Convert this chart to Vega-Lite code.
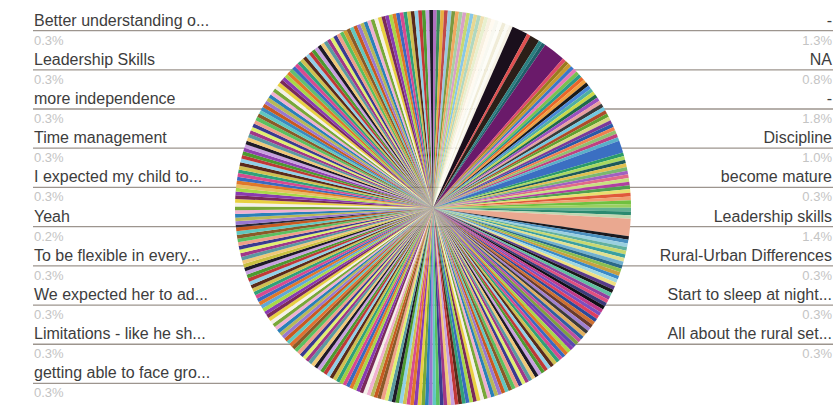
{
"$schema": "https://vega.github.io/schema/vega-lite/v6.json",
"width": 800,
"height": 394,
"autosize": {"type": "none"},
"padding": {"left": 33, "top": 11, "right": 6, "bottom": 0},
"background": "white",
"config": {"view": {"stroke": null}},
"data": {"values": [
{"i":1,"v":0.003},{"i":2,"v":0.003},{"i":3,"v":0.003},{"i":4,"v":0.003},{"i":5,"v":0.003},{"i":6,"v":0.003},{"i":7,"v":0.003},{"i":8,"v":0.003},{"i":9,"v":0.003},{"i":10,"v":0.003},
{"i":11,"v":0.003},{"i":12,"v":0.003},{"i":13,"v":0.003},{"i":14,"v":0.003},{"i":15,"v":0.003},{"i":16,"v":0.003},{"i":17,"v":0.003},{"i":18,"v":0.003},{"i":19,"v":0.003},{"i":20,"v":0.003},
{"i":21,"v":0.003},{"i":22,"v":0.003},
{"i":23,"v":0.013,"label":"-","side":"right","slot":0},
{"i":24,"v":0.003},
{"i":25,"v":0.008,"label":"NA","side":"right","slot":1},
{"i":26,"v":0.003},{"i":27,"v":0.003},
{"i":28,"v":0.018,"label":"-","side":"right","slot":2},
{"i":29,"v":0.003},{"i":30,"v":0.003},{"i":31,"v":0.003},{"i":32,"v":0.003},{"i":33,"v":0.003},{"i":34,"v":0.003},{"i":35,"v":0.003},{"i":36,"v":0.003},{"i":37,"v":0.003},{"i":38,"v":0.003},
{"i":39,"v":0.003},{"i":40,"v":0.003},{"i":41,"v":0.003},{"i":42,"v":0.003},{"i":43,"v":0.003},{"i":44,"v":0.003},{"i":45,"v":0.003},{"i":46,"v":0.003},{"i":47,"v":0.003},{"i":48,"v":0.003},
{"i":49,"v":0.003},{"i":50,"v":0.003},{"i":51,"v":0.003},{"i":52,"v":0.003},{"i":53,"v":0.003},{"i":54,"v":0.003},{"i":55,"v":0.003},
{"i":56,"v":0.010,"label":"Discipline","side":"right","slot":3},
{"i":57,"v":0.003},{"i":58,"v":0.003},{"i":59,"v":0.003},{"i":60,"v":0.003},{"i":61,"v":0.003},{"i":62,"v":0.003},{"i":63,"v":0.003},{"i":64,"v":0.003},
{"i":65,"v":0.003,"label":"become mature","side":"right","slot":4},
{"i":66,"v":0.003},{"i":67,"v":0.003},{"i":68,"v":0.003},{"i":69,"v":0.003},{"i":70,"v":0.003},{"i":71,"v":0.003},{"i":72,"v":0.003},{"i":73,"v":0.003},{"i":74,"v":0.003},
{"i":75,"v":0.014,"label":"Leadership skills","side":"right","slot":5},
{"i":76,"v":0.003},{"i":77,"v":0.003},{"i":78,"v":0.003},{"i":79,"v":0.003},{"i":80,"v":0.003},{"i":81,"v":0.003},{"i":82,"v":0.003},{"i":83,"v":0.003},{"i":84,"v":0.003},
{"i":85,"v":0.003,"label":"Rural-Urban Differences","side":"right","slot":6},
{"i":86,"v":0.003},{"i":87,"v":0.003},{"i":88,"v":0.003},{"i":89,"v":0.003},{"i":90,"v":0.003},{"i":91,"v":0.003},{"i":92,"v":0.003},{"i":93,"v":0.003},{"i":94,"v":0.003},{"i":95,"v":0.003},
{"i":96,"v":0.003,"label":"Start to sleep at night...","side":"right","slot":7},
{"i":97,"v":0.003},{"i":98,"v":0.003},{"i":99,"v":0.003},{"i":100,"v":0.003},{"i":101,"v":0.003},{"i":102,"v":0.003},{"i":103,"v":0.003},{"i":104,"v":0.003},{"i":105,"v":0.003},{"i":106,"v":0.003},{"i":107,"v":0.003},{"i":108,"v":0.003},
{"i":109,"v":0.003,"label":"All about the rural set...","side":"right","slot":8},
{"i":110,"v":0.003},{"i":111,"v":0.003},{"i":112,"v":0.003},{"i":113,"v":0.003},{"i":114,"v":0.003},{"i":115,"v":0.003},{"i":116,"v":0.003},{"i":117,"v":0.003},{"i":118,"v":0.003},{"i":119,"v":0.003},
{"i":120,"v":0.003},{"i":121,"v":0.003},{"i":122,"v":0.003},{"i":123,"v":0.003},{"i":124,"v":0.003},{"i":125,"v":0.003},{"i":126,"v":0.003},{"i":127,"v":0.003},{"i":128,"v":0.003},{"i":129,"v":0.003},
{"i":130,"v":0.003},{"i":131,"v":0.003},{"i":132,"v":0.003},{"i":133,"v":0.003},{"i":134,"v":0.003},{"i":135,"v":0.003},{"i":136,"v":0.003},{"i":137,"v":0.003},{"i":138,"v":0.003},{"i":139,"v":0.003},
{"i":140,"v":0.003},{"i":141,"v":0.003},{"i":142,"v":0.003},{"i":143,"v":0.003},{"i":144,"v":0.003},{"i":145,"v":0.003},{"i":146,"v":0.003},{"i":147,"v":0.003},{"i":148,"v":0.003},{"i":149,"v":0.003},
{"i":150,"v":0.003},{"i":151,"v":0.003},{"i":152,"v":0.003},{"i":153,"v":0.003},{"i":154,"v":0.003},{"i":155,"v":0.003},{"i":156,"v":0.003},{"i":157,"v":0.003},{"i":158,"v":0.003},{"i":159,"v":0.003},
{"i":160,"v":0.003},{"i":161,"v":0.003},{"i":162,"v":0.003},{"i":163,"v":0.003},{"i":164,"v":0.003},{"i":165,"v":0.003},{"i":166,"v":0.003},{"i":167,"v":0.003},{"i":168,"v":0.003},{"i":169,"v":0.003},
{"i":170,"v":0.003},{"i":171,"v":0.003},{"i":172,"v":0.003},{"i":173,"v":0.003},{"i":174,"v":0.003},{"i":175,"v":0.003},{"i":176,"v":0.003},
{"i":177,"v":0.003,"label":"getting able to face gro...","side":"left","slot":9},
{"i":178,"v":0.003},{"i":179,"v":0.003},{"i":180,"v":0.003},{"i":181,"v":0.003},{"i":182,"v":0.003},{"i":183,"v":0.003},{"i":184,"v":0.003},{"i":185,"v":0.003},{"i":186,"v":0.003},{"i":187,"v":0.003},
{"i":188,"v":0.003},{"i":189,"v":0.003},{"i":190,"v":0.003},{"i":191,"v":0.003},{"i":192,"v":0.003},{"i":193,"v":0.003},
{"i":194,"v":0.003,"label":"Limitations - like he sh...","side":"left","slot":8},
{"i":195,"v":0.003},{"i":196,"v":0.003},{"i":197,"v":0.003},{"i":198,"v":0.003},{"i":199,"v":0.003},{"i":200,"v":0.003},{"i":201,"v":0.003},{"i":202,"v":0.003},{"i":203,"v":0.003},{"i":204,"v":0.003},
{"i":205,"v":0.003},{"i":206,"v":0.003},
{"i":207,"v":0.003,"label":"We expected her to ad...","side":"left","slot":7},
{"i":208,"v":0.003},{"i":209,"v":0.003},{"i":210,"v":0.003},{"i":211,"v":0.003},{"i":212,"v":0.003},{"i":213,"v":0.003},{"i":214,"v":0.003},{"i":215,"v":0.003},{"i":216,"v":0.003},{"i":217,"v":0.003},
{"i":218,"v":0.003},
{"i":219,"v":0.003,"label":"To be flexible in every...","side":"left","slot":6},
{"i":220,"v":0.003},{"i":221,"v":0.003},{"i":222,"v":0.003},{"i":223,"v":0.003},{"i":224,"v":0.003},{"i":225,"v":0.003},{"i":226,"v":0.003},{"i":227,"v":0.003},{"i":228,"v":0.003},{"i":229,"v":0.003},
{"i":230,"v":0.002,"label":"Yeah","side":"left","slot":5},
{"i":231,"v":0.003},{"i":232,"v":0.003},{"i":233,"v":0.003},{"i":234,"v":0.003},{"i":235,"v":0.003},{"i":236,"v":0.003},{"i":237,"v":0.003},{"i":238,"v":0.003},{"i":239,"v":0.003},{"i":240,"v":0.003},
{"i":241,"v":0.003,"label":"I expected my child to...","side":"left","slot":4},
{"i":242,"v":0.003},{"i":243,"v":0.003},{"i":244,"v":0.003},{"i":245,"v":0.003},{"i":246,"v":0.003},{"i":247,"v":0.003},{"i":248,"v":0.003},{"i":249,"v":0.003},{"i":250,"v":0.003},
{"i":251,"v":0.003,"label":"Time management","side":"left","slot":3},
{"i":252,"v":0.003},{"i":253,"v":0.003},{"i":254,"v":0.003},{"i":255,"v":0.003},{"i":256,"v":0.003},{"i":257,"v":0.003},{"i":258,"v":0.003},{"i":259,"v":0.003},{"i":260,"v":0.003},{"i":261,"v":0.003},
{"i":262,"v":0.003},
{"i":263,"v":0.003,"label":"more independence","side":"left","slot":2},
{"i":264,"v":0.003},{"i":265,"v":0.003},{"i":266,"v":0.003},{"i":267,"v":0.003},{"i":268,"v":0.003},{"i":269,"v":0.003},{"i":270,"v":0.003},{"i":271,"v":0.003},{"i":272,"v":0.003},{"i":273,"v":0.003},
{"i":274,"v":0.003},{"i":275,"v":0.003},
{"i":276,"v":0.003,"label":"Leadership Skills","side":"left","slot":1},
{"i":277,"v":0.003},{"i":278,"v":0.003},{"i":279,"v":0.003},{"i":280,"v":0.003},{"i":281,"v":0.003},{"i":282,"v":0.003},{"i":283,"v":0.003},{"i":284,"v":0.003},{"i":285,"v":0.003},{"i":286,"v":0.003},
{"i":287,"v":0.003},{"i":288,"v":0.003},{"i":289,"v":0.003},{"i":290,"v":0.003},{"i":291,"v":0.003},{"i":292,"v":0.003},{"i":293,"v":0.003},
{"i":294,"v":0.003,"label":"Better understanding o...","side":"left","slot":0},
{"i":295,"v":0.003},{"i":296,"v":0.003},{"i":297,"v":0.003},{"i":298,"v":0.003},{"i":299,"v":0.003},{"i":300,"v":0.003},{"i":301,"v":0.003},{"i":302,"v":0.003},{"i":303,"v":0.003},{"i":304,"v":0.003},
{"i":305,"v":0.003},{"i":306,"v":0.003},{"i":307,"v":0.003},{"i":308,"v":0.003},{"i":309,"v":0.003},{"i":310,"v":0.003},{"i":311,"v":0.003},{"i":312,"v":0.003},{"i":313,"v":0.003},{"i":314,"v":0.003},
{"i":315,"v":0.003},{"i":316,"v":0.003},{"i":317,"v":0.003},{"i":318,"v":0.003}
]},
"layer": [
{
"transform": [{"filter": "isValid(datum.label)"}],
"mark": {"type": "rule", "color": "#9d958e", "strokeWidth": 1.3},
"encoding": {
"x": {"field": "side", "type": "nominal", "scale": {"type": "point", "domain": ["left", "center", "right"], "padding": 0}, "axis": null},
"x2": {"datum": "center"},
"y": {"field": "slot", "type": "quantitative", "scale": {"domain": [-0.5, 9.55], "reverse": true, "nice": false, "zero": false}, "axis": null}
}
},
{
"mark": {"type": "arc", "outerRadius": 198},
"encoding": {
"theta": {"field": "v", "type": "quantitative", "stack": true},
"order": {"field": "i", "type": "quantitative"},
"color": {"field": "i", "type": "ordinal", "legend": null, "scale": {"range": [
"#b070c0","#3a8a5a","#e8b040","#c04a4a","#9ac8e0","#7a9a40","#f0a860","#a8d0a0","#d8a0c8","#c8d870","#88c8e8","#e8d890","#b0d8c0","#f0e0b0","#e8f0d0","#f8f0e0","#fffaf0","#f8f8f0","#fdfdf8","#f0ecd8","#fbfbf5","#f6f2e6",
"#1a0f1c","#e05050","#2b1f18","#2a8080","#1f5f6a","#6a1a6a",
"#e04a6a","#9a7a1e","#c89a30","#3a78c8","#e878b8","#7ac050","#2a9a8a","#e8662a","#f0a040","#1a1a1a","#4a88d8","#50b0a0","#c8d848","#1e6a4a","#9a50c0","#e8a0a0","#3a3a3a","#70c8e0","#b04a2a","#60a030","#d8d880","#7a3a9a","#2a5aa8","#f08050","#90c070","#c04080","#5ab0c8",
"#3b6fc2",
"#2a9a6a","#a8d860","#1e5a5a","#e0c050","#7ab870","#a060c0","#e06a8a","#c8e080",
"#b040a0",
"#50a050","#e8e070","#e05a3a","#f0a070","#70c040","#9ad060","#60b090","#2a8a70","#c0d8b0",
"#eaa890",
"#1a1a20","#4a90c0","#9ad0e0","#60b0a0","#c8d870","#3aa0a0","#e0e090","#70b0d0","#2a6a8a",
"#8ac050",
"#c8a040","#3a8ac8","#a0d8e0","#f0e080","#5a3a8a","#1a1a1a","#60c0a0","#9040a0","#e05080","#3a3a7a",
"#101018",
"#c03a8a","#7a50c0","#e04060","#2a4a9a","#d07030","#6a3a2a","#a080d0","#3a3a3a","#e0b060","#3060a0","#c050a0","#80a040",
"#5a4ab0",
"#8a3ab0","#a8d848","#e0782a","#3a6ac0","#d84a90","#30a07a","#d0c050","#5a2a1a","#90d0e8","#c03838","#4c9a30","#c8a0e0","#1e1a28","#f0c878","#5a9aa0","#a03888","#e0f070","#3a3a90","#f0a088","#5ac060","#8a5a28","#60c8c0","#c85a20","#9878d0","#b8b858","#2a80b8","#f0b0d0","#78a838","#f4f0e8","#e8d040","#7a2a5a",
"#a8d848","#3a6ac0","#30a07a","#5a2a1a","#c03838","#c8a0e0","#f0c878","#a03888","#3a3a90","#5ac060","#60c8c0","#9878d0","#2a80b8","#78a838","#e8d040","#8a3ab0","#e0782a","#d84a90","#d0c050","#90d0e8","#4c9a30","#1e1a28","#5a9aa0","#e0f070","#f0a088","#8a5a28","#c85a20","#b8b858","#f0b0d0","#f4f0e8","#7a2a5a",
"#8a3ab0","#a8d848","#e0782a","#3a6ac0","#d84a90",
"#a0d040",
"#30a07a","#d0c050","#5a2a1a","#90d0e8","#c03838","#4c9a30","#c8a0e0","#1e1a28","#f0c878","#5a9aa0","#a03888","#e0f070","#3a3a90","#f0a088","#5ac060","#8a5a28",
"#e07030",
"#60c8c0","#c85a20","#9878d0","#b8b858","#2a80b8","#f0b0d0","#78a838","#f4f0e8","#e8d040","#7a2a5a","#8a3ab0","#a8d848",
"#60a8d8",
"#e0782a","#3a6ac0","#d84a90","#30a07a","#d0c050","#5a2a1a","#90d0e8","#c03838","#4c9a30","#c8a0e0","#1e1a28",
"#c8c040",
"#f0c878","#5a9aa0","#a03888","#e0f070","#3a3a90","#f0a088","#5ac060","#8a5a28","#60c8c0","#c85a20",
"#2a2a3a",
"#9878d0","#b8b858","#2a80b8","#f0b0d0","#78a838","#f4f0e8","#e8d040","#7a2a5a","#8a3ab0","#a8d848",
"#e8c060",
"#e0782a","#3a6ac0","#d84a90","#30a07a","#d0c050","#5a2a1a","#90d0e8","#c03838","#4c9a30",
"#9040b0",
"#c8a0e0","#1e1a28","#f0c878","#5a9aa0","#a03888","#e0f070","#3a3a90","#f0a088","#5ac060","#8a5a28","#60c8c0",
"#3a8ac0",
"#c85a20","#9878d0","#b8b858","#2a80b8","#f0b0d0","#78a838","#f4f0e8","#e8d040","#7a2a5a","#8a3ab0","#a8d848","#e0782a",
"#60c070",
"#3a6ac0","#d84a90","#30a07a","#d0c050","#5a2a1a","#90d0e8","#c03838","#4c9a30","#c8a0e0","#1e1a28","#f0c878","#5a9aa0","#a03888","#e0f070","#3a3a90","#f0a088","#5ac060",
"#d0a030",
"#8a5a28","#60c8c0","#c85a20","#9878d0","#b8b858","#2a80b8","#f0b0d0","#78a838","#f4f0e8","#e8d040","#7a2a5a","#8a3ab0","#a8d848","#e0782a","#3a6ac0","#d84a90","#30a07a","#d0c050","#5a2a1a","#90d0e8","#c03838","#4c9a30","#c8a0e0","#1e1a28"
]}}
}
},
{
"transform": [{"filter": "datum.side == 'left'"}],
"mark": {"type": "text", "align": "left", "baseline": "alphabetic", "dx": 1, "dy": -5, "font": "Liberation Sans", "fontSize": 16, "color": "#3d3d3d"},
"encoding": {
"x": {"field": "side", "type": "nominal"},
"y": {"field": "slot", "type": "quantitative"},
"text": {"field": "label", "type": "nominal"}
}
},
{
"transform": [{"filter": "datum.side == 'left'"}],
"mark": {"type": "text", "align": "left", "baseline": "top", "dx": 1, "dy": 4, "font": "Liberation Sans", "fontSize": 13, "color": "#c4c4c4"},
"encoding": {
"x": {"field": "side", "type": "nominal"},
"y": {"field": "slot", "type": "quantitative"},
"text": {"field": "v", "type": "quantitative", "format": ".1%"}
}
},
{
"transform": [{"filter": "datum.side == 'right'"}],
"mark": {"type": "text", "align": "right", "baseline": "alphabetic", "dx": -1, "dy": -5, "font": "Liberation Sans", "fontSize": 16, "color": "#3d3d3d"},
"encoding": {
"x": {"field": "side", "type": "nominal"},
"y": {"field": "slot", "type": "quantitative"},
"text": {"field": "label", "type": "nominal"}
}
},
{
"transform": [{"filter": "datum.side == 'right'"}],
"mark": {"type": "text", "align": "right", "baseline": "top", "dx": -1, "dy": 4, "font": "Liberation Sans", "fontSize": 13, "color": "#c4c4c4"},
"encoding": {
"x": {"field": "side", "type": "nominal"},
"y": {"field": "slot", "type": "quantitative"},
"text": {"field": "v", "type": "quantitative", "format": ".1%"}
}
}
]
}
